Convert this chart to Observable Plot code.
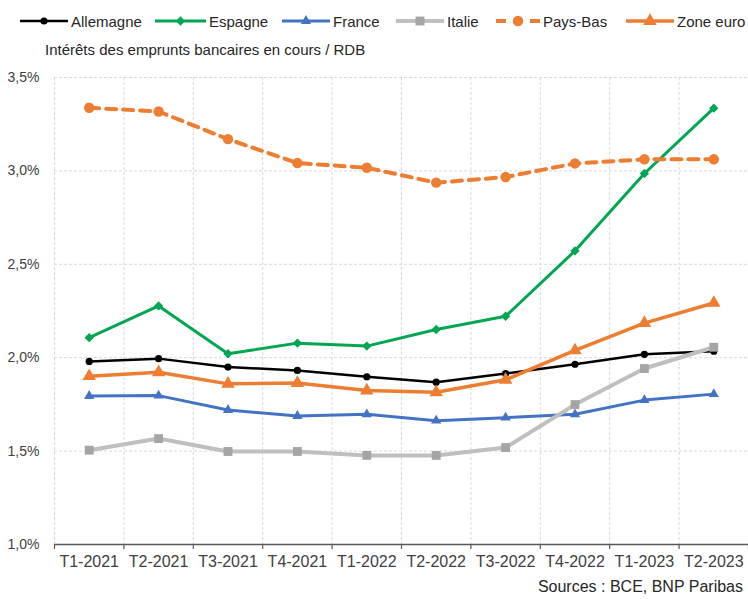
<!DOCTYPE html>
<html>
<head>
<meta charset="utf-8">
<script src="https://cdn.jsdelivr.net/npm/d3@7"></script>
<script src="https://cdn.jsdelivr.net/npm/@observablehq/plot@0.6"></script>
<style>
  body { margin: 0; background: #fff; font-family: "Liberation Sans", Arial, sans-serif; color: #262626; }
  #wrap { position: relative; width: 748px; height: 599px; overflow: hidden; }
  .item { position: absolute; top: 11px; display: flex; align-items: center; font-size: 15px; height: 20px; }
  .item svg { display: block; margin-right: 3px; }
  #subtitle { position: absolute; left: 45px; top: 41px; font-size: 15px; color: #262626; }
  #chart { position: absolute; left: 0; top: 62px; }
  #source { position: absolute; right: 5px; top: 578px; font-size: 16px; color: #262626; }
</style>
</head>
<body>
<div id="wrap">
  <div id="legend"></div>
  <div id="subtitle">Intérêts des emprunts bancaires en cours / RDB</div>
  <div id="chart"></div>
  <div id="source">Sources : BCE, BNP Paribas</div>
</div>
<script>
const quarters = ["T1-2021","T2-2021","T3-2021","T4-2021","T1-2022","T2-2022","T3-2022","T4-2022","T1-2023","T2-2023"];
const allemagne = [1.980, 1.995, 1.950, 1.932, 1.898, 1.869, 1.915, 1.965, 2.018, 2.035];
const espagne   = [2.107, 2.277, 2.021, 2.078, 2.062, 2.151, 2.222, 2.572, 2.986, 3.336];
const france    = [1.795, 1.797, 1.720, 1.688, 1.697, 1.663, 1.679, 1.697, 1.773, 1.805];
const italie    = [1.505, 1.567, 1.498, 1.498, 1.477, 1.477, 1.519, 1.749, 1.942, 2.056];
const paysBas   = [3.338, 3.318, 3.170, 3.042, 3.017, 2.937, 2.967, 3.040, 3.062, 3.062];
const zoneEuro  = [1.901, 1.922, 1.860, 1.864, 1.824, 1.815, 1.882, 2.039, 2.185, 2.293];
const yTicks = [1.0, 1.5, 2.0, 2.5, 3.0, 3.5];

const series = [
  {name: "Allemagne", values: allemagne, color: "#000000", width: 2.5, dash: null, symbol: "circle", r: 3.6, mfill: "#000000"},
  {name: "Espagne", values: espagne, color: "#00A651", width: 3, dash: null, symbol: "diamond2", r: 4.2, mfill: "#00A651"},
  {name: "France", values: france, color: "#4472C4", width: 3, dash: null, symbol: "triangle", r: 3.8, mfill: "#4472C4"},
  {name: "Italie", values: italie, color: "#BFBFBF", width: 4, dash: null, symbol: "square", r: 5.0, mfill: "#A5A5A5"},
  {name: "Pays-Bas", values: paysBas, color: "#ED7D31", width: 4, dash: "10,7", symbol: "circle", r: 5.2, mfill: "#ED7D31"},
  {name: "Zone euro", values: zoneEuro, color: "#ED7D31", width: 3.5, dash: null, symbol: "triangle", r: 5.0, mfill: "#ED7D31"}
];

// Legend
const legendLeft = [20, 155, 282, 396, 496, 626];
const legendW = [48, 51, 48, 48, 44, 48];
const legend = document.getElementById("legend");
series.forEach((s, i) => {
  const div = document.createElement("div");
  div.className = "item";
  div.style.left = legendLeft[i] + "px";
  const w = legendW[i];
  const sym = d3.symbol().type({circle: d3.symbolCircle, diamond2: d3.symbolDiamond2, triangle: d3.symbolTriangle, square: d3.symbolSquare}[s.symbol]).size(Math.PI * s.r * s.r)();
  div.innerHTML = `<svg width="${w}" height="20"><line x1="0" x2="${w}" y1="10" y2="10" stroke="${s.color}" stroke-width="${s.width}" ${s.dash ? `stroke-dasharray="${s.dash}"` : ""}/><path d="${sym}" transform="translate(${w/2},10)" fill="${s.mfill}"/></svg><span>${s.name}</span>`;
  legend.appendChild(div);
});

const marks = [];
const bounds = d3.range(quarters.length + 1).map(i => i - 0.5);
marks.push(Plot.gridY(yTicks.filter(d => d > 1), {stroke: "#D9D9D9", strokeOpacity: 1, strokeDasharray: "3,2", strokeWidth: 1}));
marks.push(Plot.ruleX(bounds, {stroke: "#D9D9D9", strokeDasharray: "3,2", strokeWidth: 1}));
marks.push(Plot.ruleY([1.0], {stroke: "#595959", strokeWidth: 1.5}));
marks.push(Plot.axisY(yTicks, {tickSize: 0, tickPadding: 15, fontSize: 14, fill: "#404040", tickFormat: d => d.toFixed(1).replace(".", ",") + "%", label: null}));
marks.push(Plot.axisX(bounds, {tickSize: 5, stroke: "#595959", strokeWidth: 1.2, tickFormat: () => "", label: null}));
marks.push(Plot.axisX(d3.range(quarters.length), {tickSize: 0, tickPadding: 11, fontSize: 16, fill: "#404040", tickFormat: i => quarters[i], label: null}));
series.forEach(s => {
  const data = s.values.map((v, i) => ({i, v}));
  marks.push(Plot.line(data, {x: "i", y: "v", stroke: s.color, strokeWidth: s.width, strokeDasharray: s.dash || undefined, curve: "linear"}));
  marks.push(Plot.dot(data, {x: "i", y: "v", symbol: () => s.symbol, r: s.r, fill: s.mfill, stroke: "none"}));
});

const chart = Plot.plot({
  width: 748,
  height: 515,
  marginLeft: 54,
  marginRight: 0,
  marginTop: 15,
  marginBottom: 33,
  style: {fontFamily: "'Liberation Sans', Arial, sans-serif", background: "transparent", overflow: "visible"},
  x: {type: "linear", domain: [-0.5, 9.5], axis: null},
  y: {type: "linear", domain: [1.0, 3.5], axis: null},
  symbol: {type: "identity"},
  marks
});
document.getElementById("chart").appendChild(chart);
</script>
</body>
</html>
